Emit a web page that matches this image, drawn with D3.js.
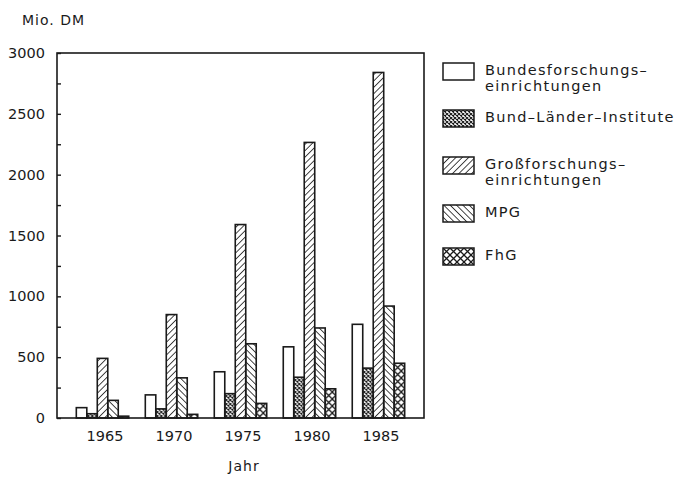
<!DOCTYPE html>
<html>
<head>
<meta charset="utf-8">
<script src="https://cdn.jsdelivr.net/npm/d3@7"></script>
<style>
  body { margin: 0; background: #fff; }
  text { font-family: "DejaVu Sans", sans-serif; fill: #1a1a1a; }
</style>
</head>
<body>
<div id="chart"></div>
<script>
const years = [1965, 1970, 1975, 1980, 1985];
const seriesNames = ["Bundesforschungs-einrichtungen", "Bund-Länder-Institute", "Großforschungs-einrichtungen", "MPG", "FhG"];
const legendLines = [
  ["Bundesforschungs–", "einrichtungen"],
  ["Bund–Länder–Institute"],
  ["Großforschungs–", "einrichtungen"],
  ["MPG"],
  ["FhG"]
];
const bundes = [85, 190, 380, 585, 770];
const bundLaender = [35, 75, 200, 335, 410];
const gross = [490, 850, 1590, 2265, 2840];
const mpg = [145, 330, 610, 740, 920];
const fhg = [15, 30, 120, 240, 450];
const yTicks = d3.range(0, 3001, 250);

const series = [bundes, bundLaender, gross, mpg, fhg];
const fills = ["#fff", "url(#p-bl)", "url(#p-gross)", "url(#p-mpg)", "url(#p-fhg)"];

const width = 683, height = 479;
const plot = { left: 57, right: 424, top: 53, bottom: 418 };
const ink = "#1a1a1a";

const svg = d3.select("#chart").append("svg")
    .attr("width", width)
    .attr("height", height);

// hatch patterns
const defs = svg.append("defs");
function hatch(id, size, angle, sw) {
  const p = defs.append("pattern")
      .attr("id", id)
      .attr("patternUnits", "userSpaceOnUse")
      .attr("width", size)
      .attr("height", size)
      .attr("patternTransform", "rotate(" + angle + ")");
  p.append("line")
      .attr("x1", 0).attr("y1", 0)
      .attr("x2", 0).attr("y2", size)
      .attr("stroke", ink)
      .attr("stroke-width", sw);
}
hatch("p-gross", 4.5, 45, 1.6);
hatch("p-mpg", 4.5, -45, 1.6);

function cross(id, size, sw) {
  const p = defs.append("pattern")
      .attr("id", id)
      .attr("patternUnits", "userSpaceOnUse")
      .attr("width", size)
      .attr("height", size);
  p.append("path")
      .attr("d", `M0,0L${size},${size}M${size},0L0,${size}`)
      .attr("stroke", ink)
      .attr("stroke-width", sw)
      .attr("fill", "none");
}
cross("p-bl", 4, 1.1);
cross("p-fhg", 7, 1.3);

const x0 = d3.scaleBand()
    .domain(years)
    .range([plot.left, plot.right])
    .paddingInner(0.24)
    .paddingOuter(0.28);

const x1 = d3.scaleBand()
    .domain(d3.range(series.length))
    .range([0, x0.bandwidth()]);

const y = d3.scaleLinear()
    .domain([0, 3000])
    .range([plot.bottom, plot.top]);

// bars
const groups = svg.append("g").selectAll("g")
    .data(years)
  .enter().append("g")
    .attr("transform", d => "translate(" + x0(d) + ",0)");

groups.selectAll("rect")
    .data((d, i) => series.map((s, k) => ({ k: k, v: s[i] })))
  .enter().append("rect")
    .attr("x", d => x1(d.k))
    .attr("y", d => y(d.v))
    .attr("width", x1.bandwidth())
    .attr("height", d => y(0) - y(d.v))
    .attr("fill", d => fills[d.k])
    .attr("stroke", ink)
    .attr("stroke-width", 1.6);

// frame
svg.append("rect")
    .attr("x", plot.left)
    .attr("y", plot.top)
    .attr("width", plot.right - plot.left)
    .attr("height", plot.bottom - plot.top)
    .attr("fill", "none")
    .attr("stroke", ink)
    .attr("stroke-width", 1.6);

// y axis
const yAxis = svg.append("g")
    .attr("transform", "translate(" + plot.left + ",0)")
    .call(d3.axisLeft(y)
      .tickValues(yTicks)
      .tickSizeInner(-4)
      .tickSizeOuter(0)
      .tickPadding(12)
      .tickFormat(d => d % 500 === 0 ? d : ""));
yAxis.select(".domain").remove();
yAxis.selectAll(".tick line").attr("stroke", ink).attr("stroke-width", 1.4);
yAxis.selectAll(".tick text")
    .style("font-family", "DejaVu Sans, sans-serif")
    .style("font-size", "14.5px")
    .attr("fill", ink);

// x labels
svg.append("g").selectAll("text")
    .data(years)
  .enter().append("text")
    .attr("x", d => x0(d) + x0.bandwidth() / 2 + 2.5)
    .attr("y", 441)
    .attr("text-anchor", "middle")
    .style("font-size", "14.5px")
    .text(d => d);

svg.append("text")
    .attr("x", 22)
    .attr("y", 25)
    .style("font-size", "14px")
    .style("letter-spacing", "1px")
    .text("Mio.  DM");

svg.append("text")
    .attr("x", 244)
    .attr("y", 471)
    .attr("text-anchor", "middle")
    .style("font-size", "14px")
    .style("letter-spacing", "1px")
    .text("Jahr");

// legend
const legendY = [63, 110, 157, 205, 248];
const legend = svg.append("g").selectAll("g")
    .data(seriesNames)
  .enter().append("g")
    .attr("transform", (d, i) => "translate(443," + legendY[i] + ")");

legend.append("rect")
    .attr("width", 31)
    .attr("height", 17)
    .attr("fill", (d, i) => fills[i])
    .attr("stroke", ink)
    .attr("stroke-width", 1.5);

legend.each(function(d, i) {
  const g = d3.select(this);
  legendLines[i].forEach((t, j) => {
    g.append("text")
        .attr("x", 42)
        .attr("y", 12 + j * 16)
        .style("font-size", "14.5px")
        .style("letter-spacing", "1.3px")
        .text(t);
  });
});
</script>
</body>
</html>
